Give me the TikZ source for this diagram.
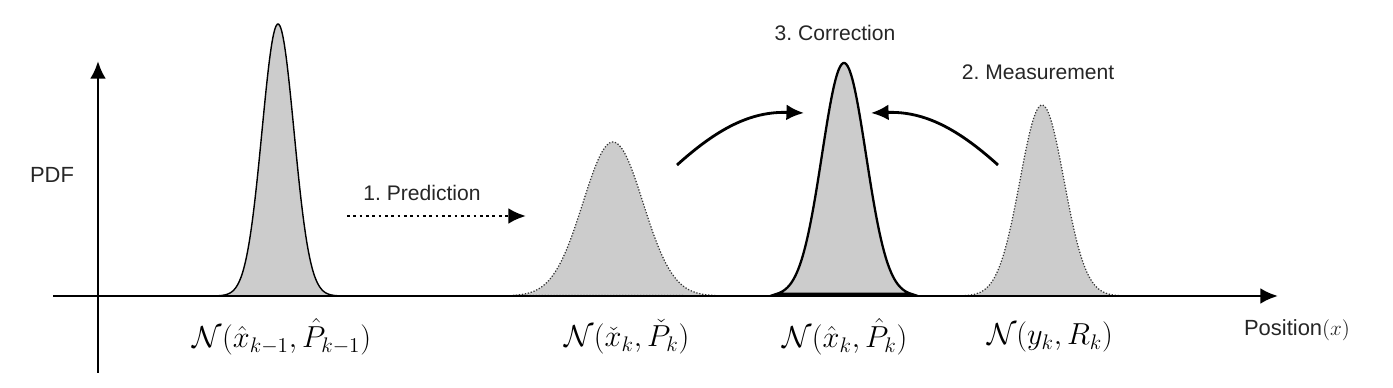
\documentclass[tikz,border=0pt]{standalone}
\usepackage{amsmath,amssymb}
\usepackage{fontspec}
\setsansfont{Liberation Sans}
\usepackage{tikz}
\usetikzlibrary{arrows.meta}
\definecolor{pdfgray}{gray}{0.8}

\begin{document}
\begin{tikzpicture}[x=0.02cm, y=0.02cm, every node/.style={font=\sffamily\fontsize{12}{14}\selectfont, text=black!85},
	axis/.style={line width=1.6pt, -{Latex[length=10pt,width=9pt]}},
	flow/.style={line width=1.6pt, -{Latex[length=10pt,width=9pt]}},
	belief/.style={fill=pdfgray, draw=black, line width=0.8pt},
	posterior/.style={fill=pdfgray, draw=black, line width=1.3pt},
	guess/.style={fill=pdfgray, draw=black!80, line width=0.7pt, densely dotted},
	mathlabel/.style={font=\fontsize{18}{20}\selectfont, text=black}]
	\useasboundingbox (0,0) rectangle (1393,388);
	% curves first, axes on top
	\draw[belief] plot[domain=216:340, samples=90, smooth] (\x, {92+272*exp(-((\x-278)/16)^2/2)}) -- cycle;
	\draw[guess] plot[domain=513:718, samples=90, smooth] (\x, {92+154*exp(-((\x-613)/30)^2/2)}) -- cycle;
	\draw[posterior] plot[domain=777:911, samples=90, smooth] (\x, {92+233*exp(-((\x-844)/22)^2/2)}) -- cycle;
	\draw[guess] plot[domain=962:1122, samples=90, smooth] (\x, {92+191*exp(-((\x-1042)/22)^2/2)}) -- cycle;
	% axes
	\coordinate (xs) at (53,92);
	\coordinate (xe) at (1278,92);
	\coordinate (ys) at (98,15);
	\coordinate (ye) at (98,327);
	\draw[axis] (xs) -- (xe);
	\draw[axis] (ys) -- (ye);
	\node[font=\sffamily\fontsize{12.5}{14}\selectfont] (pdf) at (52,213) {PDF};
	\node[font=\sffamily\fontsize{12.5}{14}\selectfont] (pos) at (1297,58) {Position$(x)$};
	% distributions
	\node[mathlabel] (prior) at (282,51) {$\mathcal{N}(\hat{x}_{k-1},\hat{P}_{k-1})$};
	\node[mathlabel] (pred) at (627,51) {$\mathcal{N}(\check{x}_k,\check{P}_k)$};
	\node[mathlabel] (corr) at (845,51) {$\mathcal{N}(\hat{x}_k,\hat{P}_k)$};
	\node[mathlabel] (meas) at (1050,51) {$\mathcal{N}(y_k,R_k)$};
	% steps
	\node (step1) at (422,195) {1.~Prediction};
	\node (step2) at (1038,316) {2.~Measurement};
	\node (step3) at (835,355) {3.~Correction};
	\coordinate (p1) at (347,172);
	\coordinate (p2) at (526,172);
	\draw[flow, dotted] (p1) -- (p2);
	\coordinate (l1) at (677,223);
	\coordinate (l2) at (804,275);
	\coordinate (r1) at (998,223);
	\coordinate (r2) at (871,275);
	\draw[flow] (l1) to[out=42,in=178] (l2);
	\draw[flow] (r1) to[out=138,in=2] (r2);
\end{tikzpicture}
\end{document}
